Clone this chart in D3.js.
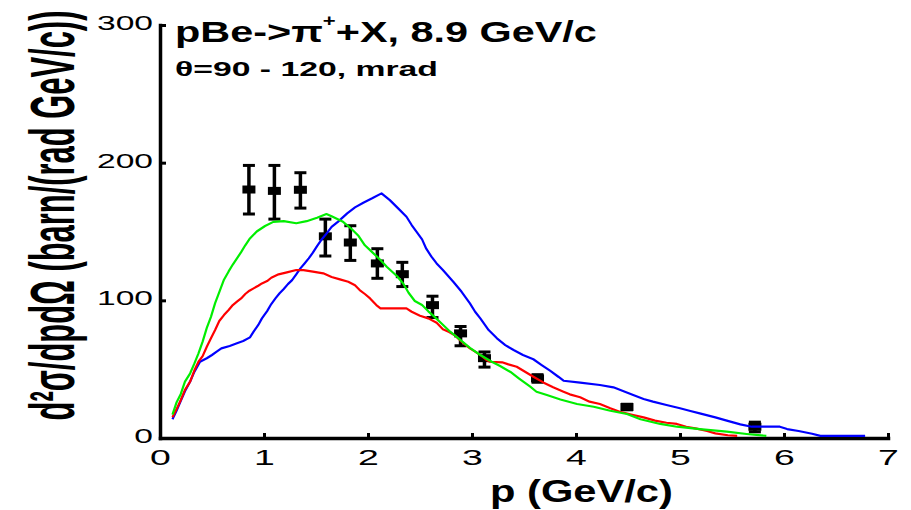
<!DOCTYPE html>
<html>
<head>
<meta charset="utf-8">
<script src="https://cdn.jsdelivr.net/npm/d3@7"></script>
<style>
  html, body { margin: 0; padding: 0; background: #fff; }
  svg { display: block; font-family: "Liberation Sans", Arial, sans-serif; }
</style>
</head>
<body>
<svg id="chart" width="911" height="510"></svg>
<script>
// Axis ticks
const xTickValues = [0, 1, 2, 3, 4, 5, 6, 7];
const yTickValues = [0, 100, 200, 300];

// Measured points with error bars
const dataP     = [0.855, 1.10, 1.35, 1.59, 1.83, 2.09, 2.33, 2.62, 2.89, 3.12, 3.63, 4.49, 5.72];
const dataSigma = [180.5, 179.5, 180.3, 146.5, 142.0, 126.8, 119.0, 96.5, 76.0, 58.0, 43.3, 22.5, 8.2];
const dataLow   = [162.7, 159.0, 167.0, 132.2, 129.0, 116.0, 110.0, 87.5, 67.0, 51.5, 40.5, 20.5, 4.5];
const dataHigh  = [198.0, 198.0, 192.7, 159.0, 154.2, 137.5, 127.6, 103.0, 81.0, 62.5, 46.0, 24.5, 11.5];

// Model curve (blue)
const blueP = [0.12, 0.16, 0.20, 0.24, 0.29, 0.33, 0.385, 0.45, 0.50, 0.545, 0.59, 0.67, 0.74, 0.80, 0.865, 0.90,
  0.945, 0.98, 1.03, 1.07, 1.11, 1.15, 1.19, 1.23, 1.27, 1.31, 1.35, 1.39, 1.43, 1.47, 1.51, 1.55, 1.59, 1.65,
  1.71, 1.80, 1.875, 1.955, 2.04, 2.13, 2.21, 2.29, 2.37, 2.42, 2.52, 2.56, 2.61, 2.66, 2.72, 2.82, 2.90, 2.98,
  3.03, 3.08, 3.16, 3.24, 3.32, 3.40, 3.49, 3.59, 3.67, 3.75, 3.83, 3.88, 4.04, 4.23, 4.36, 4.47, 4.55, 4.65,
  4.74, 4.87, 5.00, 5.10, 5.19, 5.34, 5.45, 5.58, 5.69, 5.96, 6.03, 6.14, 6.27, 6.35, 6.78];
const blueV = [13.6, 20, 27, 34, 41, 48, 55.4, 57.9, 60.3, 62.7, 65.1, 66.8, 68.8, 70.4, 73.1, 77.2,
  82.1, 86.9, 92.2, 97.3, 101.4, 105.1, 108.2, 111.8, 114.7, 118.9, 123.2, 126.8, 130.5, 134.6, 139.4, 143.8, 147.4, 153.4,
  157.0, 163.2, 167.5, 170.9, 174.1, 177.7, 172.8, 166.8, 160.7, 154.7, 144.3, 137.5, 131.7, 126.8, 122.0, 113.5, 106.2, 97.8,
  91.7, 86.9, 78.4, 72.4, 67.5, 63.9, 60.3, 57.2, 53.0, 48.9, 44.5, 41.6, 40.2, 38.5, 36.8, 33.6, 31.2, 28.3,
  26.4, 24.0, 21.6, 19.6, 17.9, 15.0, 12.6, 9.9, 8.2, 8.2, 6.5, 5.1, 3.1, 1.5, 1.5];

// Model curve (red)
const redP = [0.12, 0.16, 0.20, 0.24, 0.29, 0.33, 0.37, 0.41, 0.45, 0.49, 0.53, 0.57, 0.615, 0.66, 0.70, 0.74,
  0.78, 0.82, 0.86, 0.90, 0.945, 0.98, 1.03, 1.07, 1.14, 1.22, 1.31, 1.38, 1.47, 1.57, 1.65, 1.73, 1.81, 1.875,
  1.92, 1.97, 2.02, 2.08, 2.12, 2.37, 2.42, 2.50, 2.58, 2.66, 2.72, 2.78, 2.83, 2.90, 2.98, 3.03, 3.08, 3.13,
  3.17, 3.29, 3.35, 3.43, 3.51, 3.59, 3.69, 3.78, 3.88, 3.94, 4.04, 4.13, 4.23, 4.33, 4.42, 4.55, 4.65, 4.76,
  4.87, 4.97, 5.06, 5.16, 5.26, 5.34, 5.46, 5.55];
const redV = [15, 21, 27.6, 35, 41, 49, 55.4, 59.5, 66.3, 72.4, 78.4, 85, 89.3, 93, 96.6, 99,
  101.4, 104.6, 107, 108.7, 110.6, 112.3, 114, 116.4, 118.9, 120.3, 122, 122, 120.8, 119.6, 117, 115.2, 113.5, 111,
  107.5, 104.6, 101.4, 96.6, 94.2, 94.2, 91.7, 88.8, 86.9, 83.7, 79, 77, 74.8, 70, 65.1, 62.7, 60.3, 57.2,
  55.4, 55, 53.5, 51.8, 48.1, 44.5, 40.2, 36.8, 33.6, 31.7, 29.6, 26.4, 24.7, 21.6, 19.1, 16.7, 15, 12.6,
  11.1, 10.2, 8.2, 6.8, 5.1, 3.4, 2, 1.5];

// Model curve (green)
const greenP = [0.12, 0.16, 0.20, 0.24, 0.29, 0.33, 0.37, 0.41, 0.45, 0.49, 0.53, 0.57, 0.615, 0.66, 0.70, 0.74,
  0.78, 0.82, 0.86, 0.93, 1.01, 1.09, 1.19, 1.31, 1.41, 1.51, 1.60, 1.65, 1.76, 1.84, 1.91, 1.97, 2.04, 2.12,
  2.18, 2.28, 2.34, 2.39, 2.45, 2.52, 2.58, 2.64, 2.71, 2.79, 2.87, 2.98, 3.08, 3.19, 3.27, 3.37, 3.45, 3.56,
  3.62, 3.72, 3.85, 4.01, 4.17, 4.33, 4.49, 4.62, 4.81, 4.97, 5.19, 5.45, 5.64, 5.83];
const greenV = [17, 26, 32, 41, 47, 54, 61.5, 70, 80, 88, 98, 106, 115, 121, 126, 130.5,
  135, 140, 144.5, 150, 154, 157, 157.5, 156, 157.5, 160, 162.7, 161, 157, 152, 146.7, 140, 135, 129.3,
  124.4, 117.5, 112, 105.5, 99.5, 96.6, 92, 88, 83, 77.2, 72.4, 65.5, 60.3, 55.4, 52.3, 48, 43.4, 37.3,
  33.6, 31.2, 28, 24.7, 22.7, 19.8, 17.4, 13.6, 10.2, 8.2, 6.5, 4.6, 2.9, 1.5];

const svg = d3.select('#chart');
const x = d3.scaleLinear().domain([0, 7]).range([160, 888]);
const y = d3.scaleLinear().domain([0, 300]).range([438, 25]);

// Text helper: draws a string and stretches it horizontally to a given width
function fitText(parent, tx, ty, targetW, size, weight, anchor, build) {
  const g = parent.append('g');
  const t = g.append('text')
    .attr('font-size', size)
    .attr('font-weight', weight)
    .attr('text-anchor', anchor)
    .attr('fill', '#000');
  build(t);
  const w = t.node().getBBox().width;
  g.attr('transform', `translate(${tx},${ty}) scale(${targetW / w},1)`);
  return g;
}

// Axes
const xAxis = svg.append('g')
  .attr('transform', 'translate(0,438)')
  .call(d3.axisBottom(x).tickValues(xTickValues).tickSize(-5).tickSizeOuter(0).tickFormat(d3.format('d')));
const yAxis = svg.append('g')
  .attr('transform', 'translate(160,0)')
  .call(d3.axisLeft(y).tickValues(yTickValues).tickSize(-6).tickSizeOuter(0).tickFormat(d3.format('d')));

[xAxis, yAxis].forEach(a => {
  a.attr('font-family', null).attr('font-size', null);
  a.select('.domain').attr('stroke', '#000').attr('stroke-width', 3.5).attr('stroke-linecap', 'square');
  a.selectAll('.tick line').attr('stroke', '#000').attr('stroke-width', 3);
});

const xLabelStretch = 1.7;
xAxis.selectAll('.tick text')
  .attr('y', 27).attr('dy', null)
  .attr('font-size', 22).attr('fill', '#000')
  .attr('transform', `scale(${xLabelStretch},1)`);

const yLabelStretch = 1.6;
yAxis.selectAll('.tick text')
  .attr('x', -7 / yLabelStretch).attr('dy', null).attr('y', 4.5)
  .attr('font-size', 21).attr('fill', '#000')
  .attr('transform', `scale(${yLabelStretch},1)`);

// Error bars and markers
const pts = svg.append('g');
dataP.forEach((p, i) => {
  const cx = x(p);
  pts.append('line')
    .attr('x1', cx).attr('x2', cx)
    .attr('y1', y(dataLow[i])).attr('y2', y(dataHigh[i]))
    .attr('stroke', '#000').attr('stroke-width', 3.5);
  [dataLow[i], dataHigh[i]].forEach(v => {
    pts.append('line')
      .attr('x1', cx - 6).attr('x2', cx + 6)
      .attr('y1', y(v)).attr('y2', y(v))
      .attr('stroke', '#000').attr('stroke-width', 3);
  });
  pts.append('rect')
    .attr('x', cx - 6.5).attr('y', y(dataSigma[i]) - 4)
    .attr('width', 13).attr('height', 8)
    .attr('fill', '#000');
});

// Model curves
const line = d3.line().x(d => x(d[0])).y(d => y(d[1]));
const curves = [
  { p: blueP, v: blueV, color: '#0000ff' },
  { p: redP, v: redV, color: '#ff0000' },
  { p: greenP, v: greenV, color: '#00ee00' }
];
curves.forEach(c => {
  svg.append('path')
    .datum(c.p.map((p, i) => [p, c.v[i]]))
    .attr('d', line)
    .attr('fill', 'none')
    .attr('stroke', c.color)
    .attr('stroke-width', 2.2)
    .attr('stroke-linejoin', 'round');
});

// Titles inside the plot
fitText(svg, 175, 42, 422, 30, 'bold', 'start', t => {
  t.append('tspan').text('pBe->π');
  t.append('tspan').attr('font-size', 16).attr('dy', -16).text('+');
  t.append('tspan').attr('dy', 16).text('+X, 8.9 GeV/c');
});
fitText(svg, 175, 76, 263, 21, 'bold', 'start', t => t.text('θ=90 - 120, mrad'));

// Axis titles
fitText(svg, 490, 502, 183, 31, 'bold', 'start', t => t.text('p (GeV/c)'));

const yTitle = svg.append('g');
const yt = yTitle.append('text')
  .attr('font-size', 30).attr('font-weight', 'bold')
  .attr('text-anchor', 'middle').attr('fill', '#000')
  .text('d²σ/dpdΩ (barn/(rad GeV/c))');
const ytw = yt.node().getBBox().width;
yTitle.attr('transform', `translate(74,215.5) rotate(-90) scale(${410 / ytw},2.1)`);
</script>
</body>
</html>
